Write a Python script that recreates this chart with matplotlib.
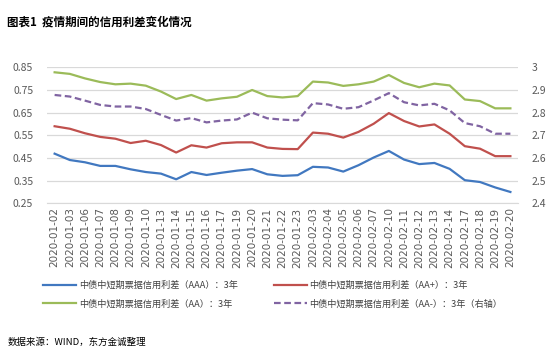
import matplotlib.pyplot as plt
from matplotlib.ticker import FuncFormatter

plt.rcParams['font.family'] = ['Noto Sans CJK SC', 'DejaVu Sans']

dates = ['2020-01-02', '2020-01-03', '2020-01-06', '2020-01-07', '2020-01-08',
         '2020-01-09', '2020-01-10', '2020-01-13', '2020-01-14', '2020-01-15',
         '2020-01-16', '2020-01-17', '2020-01-19', '2020-01-20', '2020-01-21',
         '2020-01-22', '2020-01-23', '2020-02-03', '2020-02-04', '2020-02-05',
         '2020-02-06', '2020-02-07', '2020-02-10', '2020-02-11', '2020-02-12',
         '2020-02-13', '2020-02-14', '2020-02-17', '2020-02-18', '2020-02-19',
         '2020-02-20']

aaa = [0.469, 0.441, 0.431, 0.415, 0.415, 0.400, 0.388, 0.381, 0.356, 0.388,
       0.375, 0.385, 0.394, 0.401, 0.378, 0.371, 0.374, 0.411, 0.408, 0.390,
       0.418, 0.452, 0.481, 0.443, 0.423, 0.428, 0.402, 0.352, 0.344, 0.320,
       0.300]
aa_plus = [0.590, 0.579, 0.559, 0.543, 0.535, 0.516, 0.526, 0.507, 0.474, 0.506,
           0.496, 0.515, 0.519, 0.519, 0.496, 0.490, 0.489, 0.562, 0.557, 0.540,
           0.565, 0.601, 0.648, 0.613, 0.589, 0.598, 0.557, 0.502, 0.491, 0.458,
           0.458]
aa = [0.828, 0.821, 0.801, 0.785, 0.775, 0.778, 0.769, 0.743, 0.710, 0.728,
      0.703, 0.713, 0.720, 0.750, 0.723, 0.717, 0.723, 0.787, 0.783, 0.768,
      0.775, 0.787, 0.816, 0.781, 0.762, 0.778, 0.770, 0.708, 0.701, 0.669,
      0.669]
aa_minus = [2.878, 2.871, 2.853, 2.834, 2.827, 2.827, 2.816, 2.790, 2.765, 2.776,
            2.757, 2.765, 2.770, 2.800, 2.775, 2.769, 2.766, 2.842, 2.836, 2.817,
            2.824, 2.854, 2.886, 2.846, 2.832, 2.839, 2.810, 2.754, 2.740, 2.707,
            2.707]

labels = ['中债中短期票据信用利差（AAA）：3年', '中债中短期票据信用利差（AA+）：3年',
          '中债中短期票据信用利差（AA）：3年', '中债中短期票据信用利差（AA-）：3年（右轴）']

fig = plt.figure(figsize=(5.5, 3.55), dpi=100)
ax = fig.add_axes([0.0855, 0.4273, 0.8563, 0.3831])
ax2 = ax.twinx()

x = range(len(dates))
l1, = ax.plot(x, aaa, color='#4178C0', lw=1.6)
l2, = ax.plot(x, aa_plus, color='#C0504D', lw=1.6)
l3, = ax.plot(x, aa, color='#9BBB59', lw=1.6)
l4, = ax2.plot(x, aa_minus, color='#8064A2', lw=1.6, linestyle=(0, (3, 1.6)))

ax.set_xlim(-0.5, len(dates) - 0.5)
ax.set_ylim(0.25, 0.85)
ax2.set_ylim(2.4, 3.0)
ax.set_yticks([0.25, 0.35, 0.45, 0.55, 0.65, 0.75, 0.85])
ax2.set_yticks([2.4, 2.5, 2.6, 2.7, 2.8, 2.9, 3.0])
ax2.yaxis.set_major_formatter(FuncFormatter(lambda v, p: f'{v:g}'))
ax.set_xticks(list(x))
ax.set_xticklabels(dates, rotation=90, fontsize=7, color='#595959', family='DejaVu Sans')
ax.grid(axis='y', color='#D9D9D9', lw=0.9)
ax.set_axisbelow(True)
for a in (ax, ax2):
    for s in a.spines.values():
        s.set_visible(False)
    a.tick_params(length=0, labelsize=7.5, labelcolor='#595959')
ax.tick_params(axis='x', pad=3)
ax.tick_params(axis='y', pad=10)
ax2.tick_params(axis='y', pad=10)
ax.spines['bottom'].set_visible(True)
ax.spines['bottom'].set_color('#D9D9D9')

fig.legend([l1, l3, l2, l4], [labels[0], labels[2], labels[1], labels[3]],
           loc='upper left', bbox_to_anchor=(0.064, 0.232), ncol=2, frameon=False,
           fontsize=6.6, handlelength=3.6, columnspacing=3.9, labelspacing=1.0,
           handletextpad=0.3, labelcolor='#404040')

fig.text(0.013, 0.938, '图表1  疫情期间的信用利差变化情况', fontsize=8.3,
         fontweight='bold', va='center', color='#000000')
fig.text(0.013, 0.035, '数据来源：WIND，东方金诚整理', fontsize=6.8,
         va='center', color='#000000')

fig.savefig('out.png', dpi=100)
